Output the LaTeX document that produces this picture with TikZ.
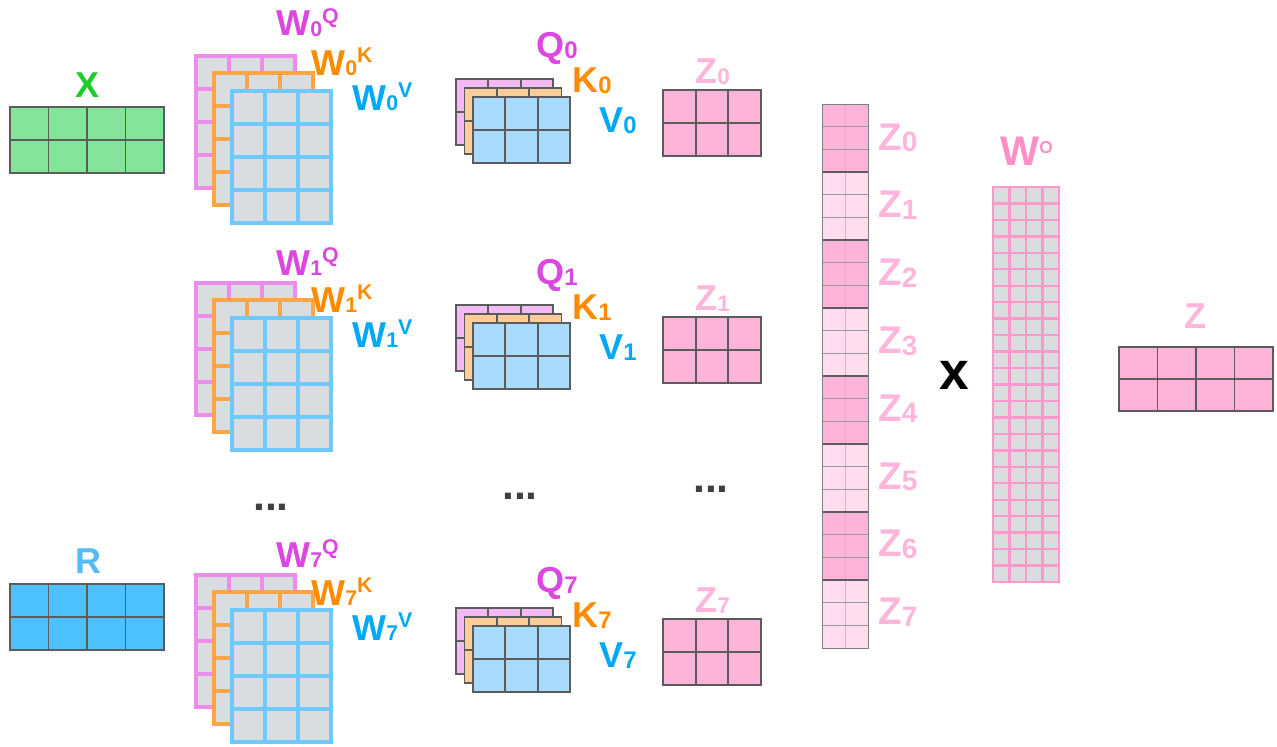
\documentclass[tikz,border=0pt]{standalone}
\usepackage{fontspec}
\setmainfont{Liberation Sans}
\definecolor{xgreen}{HTML}{84E49A}
\definecolor{xlab}{HTML}{1FCB2A}
\definecolor{rblue}{HTML}{4DC0FF}
\definecolor{rlab}{HTML}{55BDF5}
\definecolor{wgray}{HTML}{DADDE0}
\definecolor{wpink}{HTML}{EE8CEE}
\definecolor{worange}{HTML}{FFA545}
\definecolor{wblue}{HTML}{6FC9FF}
\definecolor{qlab}{HTML}{DB47E0}
\definecolor{klab}{HTML}{FF8C00}
\definecolor{vlab}{HTML}{00A9F6}
\definecolor{qfill}{HTML}{F3B9F3}
\definecolor{kfill}{HTML}{FDCC99}
\definecolor{vfill}{HTML}{A9DBFF}
\definecolor{zfill}{HTML}{FFB3D9}
\definecolor{zlight}{HTML}{FFDDEE}
\definecolor{zlab}{HTML}{FFB6DA}
\definecolor{wolab}{HTML}{FF8FC6}
\definecolor{woline}{HTML}{FF99CC}
\definecolor{gline}{HTML}{5C5C5C}
\definecolor{dotcol}{HTML}{404040}
\newcommand{\gmat}[9]{%
  \node[#9, fill=#8, inner sep=0pt, outer sep=0pt, minimum width={#4*0.75pt}, minimum height={#5*0.75pt}, anchor=north west] (#1) at (#2,#3) {};
  \foreach \k in {1,...,#6}{\ifnum\k<#6\relax\draw[#9] ({#2+\k*#4/#6},#3) -- ++(0,#5);\fi}
  \foreach \k in {1,...,#7}{\ifnum\k<#7\relax\draw[#9] (#2,{#3+\k*#5/#7}) -- ++(#4,0);\fi}
  \draw[#9] (#1.north west) rectangle (#1.south east);
}
\newcommand{\wl}[2]{W{\fontsize{16}{16}\selectfont\raisebox{-0.7pt}{#1}\raisebox{9.5pt}{#2}}}
\newcommand{\ql}[2]{#1{\fontsize{18}{18}\selectfont\raisebox{-1pt}{#2}}}
\newcommand{\zl}[1]{Z{\fontsize{17}{17}\selectfont\raisebox{-1pt}{#1}}}
\newcommand{\zcl}[1]{Z{\fontsize{21}{21}\selectfont\raisebox{-1.2pt}{#1}}}
\tikzset{
  dline/.style={draw=gline, line width=1.3pt},
  pline/.style={draw=wpink, line width=2.4pt},
  oline/.style={draw=worange, line width=2.4pt},
  bline/.style={draw=wblue, line width=2.4pt},
  woln/.style={draw=woline, line width=1.8pt},
  lab/.style={inner sep=0pt, anchor=base west, font=\bfseries\fontsize{27}{27}\selectfont},
  wlab/.style={lab, font=\bfseries\fontsize{27}{27}\selectfont},
  dotsty/.style={inner sep=0pt, anchor=base, text=dotcol, font=\bfseries\fontsize{32}{32}\selectfont},
}
\begin{document}
\begin{tikzpicture}[x=0.75pt,y=-0.75pt]
\useasboundingbox (0,0) rectangle (1277,746);
% inputs
\gmat{X}{10}{107}{154}{66}{4}{2}{xgreen}{dline}
\node[lab, anchor=base, text=xlab] (Xl) at (88,97) {X};
\gmat{R}{10}{584}{154}{66}{4}{2}{rblue}{dline}
\node[lab, anchor=base, text=rlab] (Rl) at (88,573) {R};
% weight stacks
\foreach \s/\y in {0/56,1/283,7/575}{
  \gmat{wq\s}{196}{\y}{99}{132}{3}{4}{wgray}{pline}
  \gmat{wk\s}{214}{\y+17}{99}{132}{3}{4}{wgray}{oline}
  \gmat{wv\s}{232}{\y+35}{99}{132}{3}{4}{wgray}{bline}
}
\foreach \s/\a/\b/\c in {0/36/75/110,1/275/312/347,7/567/605/640}{
  \node[wlab, text=qlab] (wql\s) at (276,\a) {\wl{\s}{Q}};
  \node[wlab, text=klab] (wkl\s) at (311,\b) {\wl{\s}{K}};
  \node[wlab, text=vlab] (wvl\s) at (352,\c) {\wl{\s}{V}};
}
% Q K V stacks
\foreach \s/\y in {0/79,1/305,7/608}{
  \gmat{q\s}{456}{\y}{97}{66}{3}{2}{qfill}{dline}
  \gmat{k\s}{464.5}{\y+9}{97}{66}{3}{2}{kfill}{dline}
  \gmat{v\s}{473}{\y+18}{97}{66}{3}{2}{vfill}{dline}
}
\foreach \s/\a/\b/\c in {0/57/92/132,1/284/319/359,7/592/627/667}{
  \node[lab, text=qlab] (ql\s) at (536,\a) {\ql{Q}{\s}};
  \node[lab, text=klab] (kl\s) at (572,\b) {\ql{K}{\s}};
  \node[lab, text=vlab] (vl\s) at (599,\c) {\ql{V}{\s}};
}
% Z blocks
\foreach \s/\y/\b in {0/90/83,1/317/310,7/619/612}{
  \gmat{z\s}{663}{\y}{98}{66}{3}{2}{zfill}{dline}
  \node[lab, text=zlab] (zl\s) at (695,\b) {\zl{\s}};
}
% dots
\node[dotsty] (d1) at (271,510) {...};
\node[dotsty] (d2) at (520,499) {...};
\node[dotsty] (d3) at (711,492) {...};
% concatenated Z
\foreach \r in {0,...,23}{
  \pgfmathtruncatemacro\g{mod(floor(\r/3),2)}
  \ifnum\g=0\relax
    \fill[zfill] (822,{104+\r*544/24}) rectangle ++(46,544/24);
  \else
    \fill[zlight] (822,{104+\r*544/24}) rectangle ++(46,544/24);
  \fi
}
\draw[draw=zfill!75!black!25!zfill, line width=0.4pt] (845,104) -- (845,648);
\foreach \r in {1,...,23}{
  \pgfmathtruncatemacro\m{mod(\r,3)}
  \ifnum\m=0\relax
    \draw[gline, line width=1.2pt] (822,{104+\r*544/24}) -- ++(46,0);
  \else
    \draw[gray!80, line width=0.8pt] (822,{104+\r*544/24}) -- ++(46,0);
  \fi
}
\node[draw=gray, line width=1pt, inner sep=0pt, minimum width={46*0.75pt}, minimum height={544*0.75pt}, anchor=north west] (zcat) at (822,104) {};
\foreach \i in {0,...,7}{
  \node[lab, font=\bfseries\fontsize{29}{29}\selectfont, text=zlab] (zc\i) at (878,{150+67.8*\i}) {\zcl{\i}};
}
% times
\node[inner sep=0pt, anchor=base, font=\bfseries\fontsize{40}{40}\selectfont] (times) at (954,389) {x};
% W^O
\gmat{WO}{993}{187}{66}{395}{4}{24}{wgray}{woln}
\node[lab, font=\bfseries\fontsize{31}{31}\selectfont, text=wolab] (WOl) at (1000,165) {W{\fontsize{13}{13}\selectfont\raisebox{9pt}{O}}};
% Z
\gmat{Z}{1119}{347}{154}{64}{4}{2}{zfill}{dline}
\node[lab, anchor=base, text=zlab] (Zl) at (1195,328) {Z};
\end{tikzpicture}
\end{document}
